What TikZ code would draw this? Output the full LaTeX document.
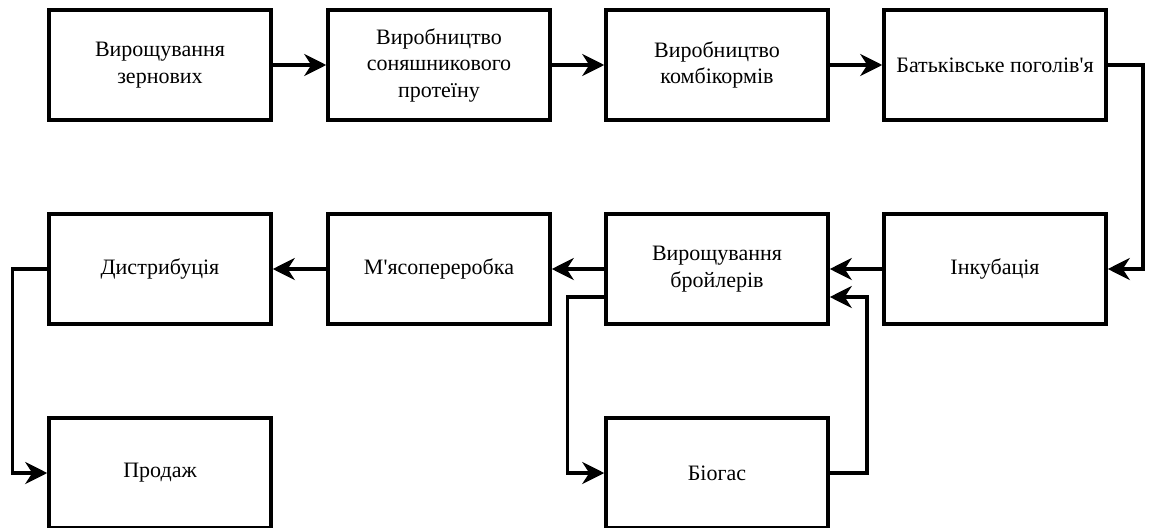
\documentclass[tikz,border=0pt]{standalone}
\usepackage{fontspec}
\setmainfont{Liberation Serif}
\usetikzlibrary{arrows.meta}

\tikzset{
   stage/.style={draw, line width=3.5pt, minimum width=222pt, minimum height=110pt,
                 align=center, font=\fontsize{22}{26.5}\selectfont},
   link/.style={line width=3.5pt, -{Stealth[length=22pt, width=22pt, inset=7pt]}}
}

\begin{document}
\begin{tikzpicture}[x=1pt, y=-1pt]
      \useasboundingbox (0,0) rectangle (1150,527);
      \def \Stages {
         grain/160/65/{Вирощування\\зернових},
         protein/439/65/{Виробництво\\соняшникового\\протеїну},
         feed/717/65/{Виробництво\\комбікормів},
         parent/995/65/{Батьківське поголів\textquotesingle я},
         dist/160/269/{Дистрибуція},
         meat/439/269/{М\textquotesingle ясопереробка},
         broil/717/269/{Вирощування\\бройлерів},
         incub/995/269/{Інкубація},
         sale/160/473/{Продаж},
         biogas/717/473/{Біогас}}
      \def \Links {
         grain/protein,
         protein/feed,
         feed/parent,
         incub/broil,
         broil/meat,
         meat/dist}
      \foreach \n / \x / \y / \t in \Stages {
         \node[stage] (\n) at (\x, \y) {\t};
      }
      \foreach \u / \v in \Links {
         \path[draw, link] (\u) -- (\v);
      }
      % bent connectors
      \draw[link] (parent.east) -- ++(35,0) |- (incub.east);
      \draw[link] (dist.west) -- ++(-35,0) |- (sale.west);
      \draw[link] ([yshift=-28pt]broil.west) -- ++(-37,0) |- (biogas.west);
      \draw[link] (biogas.east) -- ++(37,0) |- ([yshift=-28pt]broil.east);
   \end{tikzpicture}
\end{document}
